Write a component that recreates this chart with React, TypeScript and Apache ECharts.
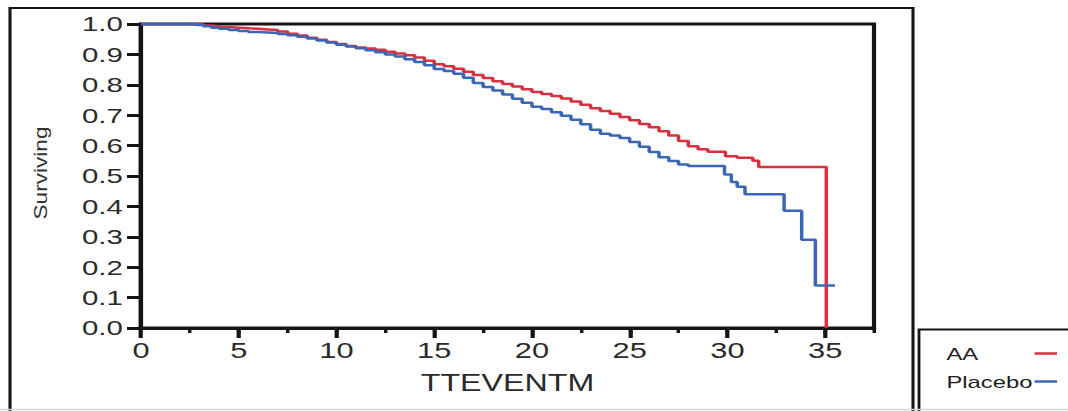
import React, { useEffect, useRef } from "react";
import * as echarts from "echarts";

// ---- data ----
const seriesNames = ["AA", "Placebo"];
const seriesColors = ["#d9303f", "#3a66b5"];

const aaTime = [
  0, 2.8, 3.2, 3.6, 4.0, 4.5, 5.0, 5.5, 6.0, 6.5, 7.0, 7.5, 8.0, 8.5, 9.0, 9.5, 10.0, 10.5, 11.0, 11.5,
  12.0, 12.5, 13.0, 13.5, 14.0, 14.5, 15.0, 15.5, 16.0, 16.5, 17.0, 17.5, 18.0, 18.5, 19.0, 19.5, 20.0,
  20.5, 21.0, 21.5, 22.0, 22.5, 23.0, 23.5, 24.0, 24.5, 25.0, 25.5, 26.0, 26.5, 27.0, 27.5, 28.0, 28.5,
  29.0, 29.9, 30.5, 31.3, 31.6, 35.06,
];
const aaSurv = [
  1.0, 0.998, 0.995, 0.993, 0.99, 0.988, 0.986, 0.984, 0.982, 0.98, 0.975, 0.968, 0.962, 0.955, 0.948,
  0.941, 0.934, 0.928, 0.923, 0.919, 0.915, 0.909, 0.903, 0.897, 0.89, 0.879, 0.868, 0.861, 0.853, 0.843,
  0.832, 0.822, 0.812, 0.803, 0.794, 0.785, 0.776, 0.77, 0.763, 0.755, 0.745, 0.734, 0.723, 0.714, 0.705,
  0.694, 0.683, 0.671, 0.66, 0.647, 0.633, 0.615, 0.598, 0.588, 0.58, 0.565, 0.56, 0.55, 0.53, 0.0,
];

const placeboTime = [
  0, 2.8, 3.2, 3.6, 4.0, 4.5, 5.0, 5.5, 6.0, 6.5, 7.0, 7.5, 8.0, 8.5, 9.0, 9.5, 10.0, 10.5, 11.0, 11.5,
  12.0, 12.5, 13.0, 13.5, 14.0, 14.5, 15.0, 15.5, 16.0, 16.5, 17.0, 17.5, 18.0, 18.5, 19.0, 19.5, 20.0,
  20.5, 21.0, 21.5, 22.0, 22.5, 23.0, 23.5, 24.0, 24.5, 25.0, 25.5, 26.0, 26.5, 27.0, 27.5, 28.0, 29.85,
  30.2, 30.5, 30.9, 32.9, 33.8, 34.5, 35.5,
];
const placeboSurv = [
  1.0, 0.997, 0.993, 0.988, 0.984, 0.98, 0.977, 0.974, 0.972, 0.97, 0.967, 0.963, 0.958, 0.952, 0.946,
  0.939, 0.932, 0.926, 0.92, 0.914, 0.907, 0.9, 0.893, 0.884, 0.875, 0.864, 0.852, 0.845, 0.836, 0.823,
  0.806, 0.793, 0.781, 0.768, 0.754, 0.741, 0.728, 0.72, 0.71, 0.698, 0.685, 0.67, 0.652, 0.639, 0.633,
  0.625, 0.612, 0.596, 0.579, 0.562, 0.549, 0.538, 0.533, 0.505, 0.48, 0.465, 0.44, 0.386, 0.29, 0.14,
  0.14,
];

const xMajorTicks = [0, 5, 10, 15, 20, 25, 30, 35];
const xAxisTitle = "TTEVENTM";
const yAxisTitle = "Surviving";

// ---- layout (the source image is stretched horizontally) ----
const SX = 1.4;
const W = 1068 / SX;
const H = 411;
const FONT = "Liberation Sans";

function pairs(t: number[], s: number[]) {
  return t.map((x, i) => [x, s[i]]);
}

export default function App() {
  const ref = useRef<HTMLDivElement>(null);

  useEffect(() => {
    if (!ref.current) return;
    const chart = echarts.init(ref.current, undefined, { renderer: "svg" });
    const dark = "#141414";
    const textColor = "#2a2a2a";

    const option: any = {
      animation: false,
      backgroundColor: "#ffffff",
      textStyle: { fontFamily: FONT },
      grid: {
        left: 141 / SX,
        top: 24,
        width: (874 - 141) / SX,
        height: 304,
        show: true,
        borderColor: dark,
        borderWidth: 3,
        backgroundColor: "transparent",
        containLabel: false,
        outerBoundsMode: "none",
      },
      xAxis: [
        {
          type: "value",
          position: "bottom",
          min: 0,
          max: 37.5,
          interval: 5,
          axisLine: { show: true, onZero: false, lineStyle: { color: dark, width: 3 } },
          axisTick: {
            show: true,
            length: 10,
            customValues: xMajorTicks,
            lineStyle: { color: dark, width: 3 },
          },
          axisLabel: {
            show: true,
            customValues: xMajorTicks,
            formatter: (v: number) => (v % 5 === 0 ? String(v) : ""),
            fontSize: 22,
            fontFamily: FONT,
            color: textColor,
            margin: 12,
          },
          splitLine: { show: false },
          name: xAxisTitle,
          nameLocation: "middle",
          nameGap: 44,
          nameTextStyle: { fontSize: 23, fontFamily: FONT, color: textColor },
        },
        {
          type: "value",
          position: "bottom",
          min: 0,
          max: 37.5,
          interval: 2.5,
          axisLine: { show: false },
          axisTick: { show: true, length: 5, lineStyle: { color: dark, width: 2.5 } },
          axisLabel: { show: false },
          splitLine: { show: false },
        },
      ],
      yAxis: {
        type: "value",
        min: 0,
        max: 1,
        interval: 0.1,
        axisLine: { show: true, onZero: false, lineStyle: { color: dark, width: 3 } },
        axisTick: { show: true, length: 10, lineStyle: { color: dark, width: 3 } },
        axisLabel: {
          formatter: (v: number) => v.toFixed(1),
          fontSize: 21,
          fontFamily: FONT,
          color: textColor,
          margin: 13,
        },
        splitLine: { show: false },
      },
      legend: {
        orient: "vertical",
        left: 671,
        top: 340,
        padding: 5,
        align: "right",
        icon: "rect",
        itemWidth: 16,
        itemHeight: 2.5,
        itemGap: 11,
        data: seriesNames,
        formatter: (name: string) => `{a|${name}}`,
        textStyle: {
          color: "#1e1e1e",
          rich: {
            a: { width: 58, align: "left", fontSize: 17, lineHeight: 20, fontFamily: FONT, color: "#1e1e1e" },
          },
        },
      },
      series: [
        {
          name: seriesNames[0],
          type: "line",
          step: "end",
          showSymbol: false,
          xAxisIndex: 0,
          data: pairs(aaTime, aaSurv),
          lineStyle: { color: seriesColors[0], width: 2.5 },
          itemStyle: { color: seriesColors[0] },
          z: 3,
        },
        {
          name: seriesNames[1],
          type: "line",
          step: "end",
          showSymbol: false,
          xAxisIndex: 0,
          data: pairs(placeboTime, placeboSurv),
          lineStyle: { color: seriesColors[1], width: 2.5 },
          itemStyle: { color: seriesColors[1] },
          z: 4,
        },
      ],
      graphic: [
        {
          type: "rect",
          silent: true,
          shape: { x: 10 / SX, y: 8, width: (913 - 10) / SX, height: 420 },
          style: { fill: "none", stroke: dark, lineWidth: 2.2 },
        },
        {
          type: "rect",
          silent: true,
          shape: { x: 919 / SX, y: 329.5, width: 200, height: 120 },
          style: { fill: "none", stroke: dark, lineWidth: 2 },
        },
        {
          type: "line",
          silent: true,
          shape: { x1: 0, y1: 409.5, x2: W, y2: 409.5 },
          style: { stroke: "#d6d6d6", lineWidth: 1.5 },
        },
        {
          type: "text",
          silent: true,
          x: 41 / SX,
          y: 173,
          rotation: Math.PI / 2,
          scaleX: 1.81,
          style: {
            text: yAxisTitle,
            fontSize: 12.5,
            fontFamily: FONT,
            fill: "#333333",
            align: "center",
            verticalAlign: "middle",
          },
        },
      ],
    };

    chart.setOption(option);
    return () => chart.dispose();
  }, []);

  return (
    <div
      ref={ref}
      style={{
        position: "absolute",
        left: 0,
        top: 0,
        width: W,
        height: H,
        transform: `scaleX(${SX})`,
        transformOrigin: "0 0",
        background: "#ffffff",
      }}
    />
  );
}
